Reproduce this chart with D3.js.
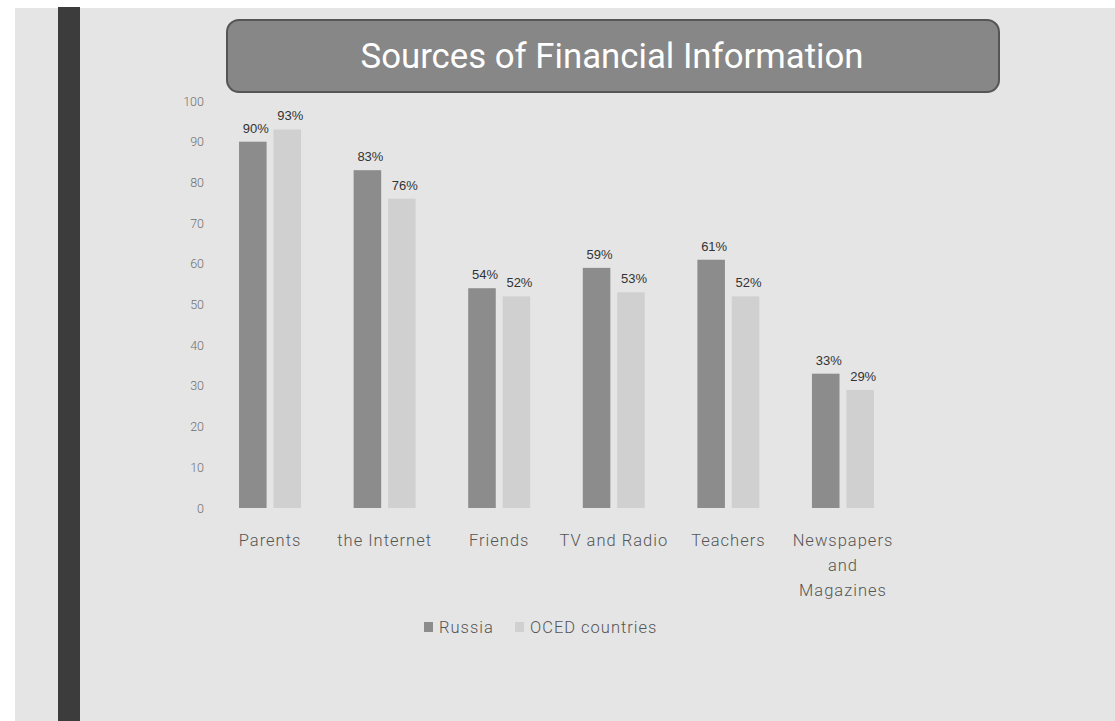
<!DOCTYPE html>
<html>
<head>
<meta charset="utf-8">
<script src="https://cdn.jsdelivr.net/npm/d3@7"></script>
<style>
  body { margin: 0; background: #ffffff; }
  svg { display: block; }
</style>
</head>
<body>
<div id="vis"></div>
<script>
// data
const CATEGORIES = ["Parents", "the Internet", "Friends", "TV and Radio", "Teachers", "Newspapers and Magazines"];
const CATEGORY_LINES = [["Parents"], ["the Internet"], ["Friends"], ["TV and Radio"], ["Teachers"], ["Newspapers", "and", "Magazines"]];
const SERIES = ["Russia", "OCED countries"];
const RUSSIA = [90, 83, 54, 59, 61, 33];
const OECD = [93, 76, 52, 53, 52, 29];
const Y_TICKS = [0, 10, 20, 30, 40, 50, 60, 70, 80, 90, 100];

// constants for the frame
const FRAME_WIDTH = 1115;
const FRAME_HEIGHT = 721;
const COLORS = ["#8c8c8c", "#d0d0d0"];

const FRAME = d3.select("#vis")
  .append("svg")
  .attr("width", FRAME_WIDTH)
  .attr("height", FRAME_HEIGHT);

// textured gray slide background
FRAME.append("rect")
  .attr("x", 15).attr("y", 8)
  .attr("width", FRAME_WIDTH - 15).attr("height", FRAME_HEIGHT - 8)
  .attr("fill", "#e5e5e5");

// dark bar on the left
FRAME.append("rect")
  .attr("x", 58).attr("y", 7)
  .attr("width", 22).attr("height", FRAME_HEIGHT - 7)
  .attr("fill", "#3c3c3c");

// title box
FRAME.append("rect")
  .attr("x", 227).attr("y", 20)
  .attr("width", 772).attr("height", 72)
  .attr("rx", 12).attr("ry", 12)
  .attr("fill", "#878787")
  .attr("stroke", "#555555")
  .attr("stroke-width", 2);

FRAME.append("text")
  .attr("x", 612).attr("y", 68)
  .attr("text-anchor", "middle")
  .attr("font-family", "Roboto, sans-serif")
  .attr("font-size", 35)
  .attr("fill", "#ffffff")
  .attr("textLength", 503)
  .attr("lengthAdjust", "spacingAndGlyphs")
  .text("Sources of Financial Information");

// scales
const Y_SCALE = d3.scaleLinear()
  .domain([0, 100])
  .range([508, 101]);

const X_SCALE = d3.scaleBand()
  .domain(CATEGORIES)
  .range([210.4, 902.6])
  .paddingInner(0.459)
  .paddingOuter(0.25);

const X_INNER = d3.scaleBand()
  .domain(SERIES)
  .range([0, X_SCALE.bandwidth()])
  .paddingInner(0.2);

// y axis, labels only
const Y_AXIS = FRAME.append("g")
  .attr("transform", "translate(204,0)")
  .call(d3.axisLeft(Y_SCALE).tickValues(Y_TICKS).tickSize(0).tickPadding(0));
Y_AXIS.select(".domain").remove();
Y_AXIS.selectAll("text")
  .attr("font-family", "Roboto, sans-serif")
  .attr("font-weight", 300)
  .attr("font-size", 12.5)
  .attr("fill", "#707070");

// bars
const ROWS = CATEGORIES.map((c, i) => ({cat: c, values: [RUSSIA[i], OECD[i]]}));

const GROUPS = FRAME.selectAll(".group")
  .data(ROWS)
  .enter()
  .append("g")
  .attr("class", "group")
  .attr("transform", (d) => "translate(" + X_SCALE(d.cat) + ",0)");

GROUPS.selectAll("rect")
  .data((d) => d.values.map((v, j) => ({series: SERIES[j], value: v, j: j})))
  .enter()
  .append("rect")
  .attr("x", (d) => X_INNER(d.series))
  .attr("y", (d) => Y_SCALE(d.value))
  .attr("width", X_INNER.bandwidth())
  .attr("height", (d) => Y_SCALE(0) - Y_SCALE(d.value))
  .attr("fill", (d) => COLORS[d.j]);

// value labels
GROUPS.selectAll(".val")
  .data((d) => d.values.map((v, j) => ({series: SERIES[j], value: v})))
  .enter()
  .append("text")
  .attr("class", "val")
  .attr("x", (d) => X_INNER(d.series) + X_INNER.bandwidth() / 2 + 3)
  .attr("y", (d) => Y_SCALE(d.value) - 9)
  .attr("text-anchor", "middle")
  .attr("font-family", "Liberation Sans, Arial, sans-serif")
  .attr("font-size", 13)
  .attr("fill", "#333333")
  .text((d) => d.value + "%");

// category labels
const X_AXIS = FRAME.append("g")
  .attr("transform", "translate(0,508)")
  .call(d3.axisBottom(X_SCALE).tickSize(0).tickFormat(""));
X_AXIS.select(".domain").remove();
X_AXIS.selectAll(".tick text").remove();
X_AXIS.selectAll(".tick")
  .append("text")
  .attr("text-anchor", "middle")
  .attr("font-family", "Roboto, sans-serif")
  .attr("font-weight", 300)
  .attr("font-size", 16.5)
  .attr("letter-spacing", 1)
  .attr("fill", "#555555")
  .selectAll("tspan")
  .data((d, i) => CATEGORY_LINES[i])
  .enter()
  .append("tspan")
  .attr("x", 0)
  .attr("y", (d, k) => 38 + k * 25)
  .text((d) => d);

// legend
const LEGEND = FRAME.append("g").attr("transform", "translate(424,633)");
const LEGEND_X = [0, 91];
SERIES.forEach((s, i) => {
  LEGEND.append("rect")
    .attr("x", LEGEND_X[i]).attr("y", -11)
    .attr("width", 9).attr("height", 10)
    .attr("fill", COLORS[i]);
  LEGEND.append("text")
    .attr("x", LEGEND_X[i] + 15).attr("y", 0)
    .attr("font-family", "Roboto, sans-serif")
    .attr("font-weight", 300)
    .attr("font-size", 16.5)
    .attr("letter-spacing", 1)
    .attr("fill", "#555555")
    .text(s);
});
</script>
</body>
</html>
